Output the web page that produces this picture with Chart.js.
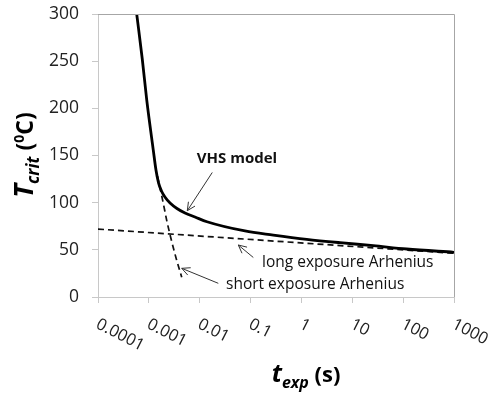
<!DOCTYPE html>
<html>
<head>
<meta charset="utf-8">
<script src="https://cdn.jsdelivr.net/npm/chart.js@4.4.1/dist/chart.umd.min.js"></script>
<style>
html,body{margin:0;padding:0;background:#fff;}
#wrap{width:490px;height:397px;position:relative;}
</style>
</head>
<body>
<div id="wrap"><canvas id="c" width="490" height="397"></canvas></div>
<script>
// ---- data ----
const vhsTime = [0.000577, 0.000743, 0.000908, 0.00122, 0.00138, 0.00155, 0.00177, 0.00207, 0.00261, 0.00357, 0.00514, 0.00807, 0.0139, 0.0776, 0.280, 1.27, 5.73, 25.9, 117, 1000];
const vhsTemp = [300, 252, 209, 156, 134.6, 120.9, 112.4, 106, 99.6, 93.8, 89, 84.8, 79.8, 70, 65.7, 61.2, 57.6, 54.4, 50.9, 47.4];
const longTime = [0.0001, 1000];
const longTemp = [72, 46.3];
const shortTime = [0.00148, 0.00191, 0.00227, 0.00261, 0.00348, 0.00443];
const shortTemp = [128, 100, 80, 66, 40, 21];
const xTickValues = [0.0001, 0.001, 0.01, 0.1, 1, 10, 100, 1000];
const xTickLabels = ['0.0001', '0.001', '0.01', '0.1', '1', '10', '100', '1000'];
const yTicksMin = 0, yTicksMax = 300, yTicksStep = 50;

// annotation anchors (data space)
const notes = [
  {text: 'VHS model', bold: true, t: 0.054, T: 142, align: 'center', arrow: {t1: 0.01766, T1: 132, t2: 0.0057, T2: 91.5}},
  {text: 'long exposure Arhenius', bold: false, t: 0.168, T: 31.8, align: 'left', arrow: {t1: 0.1132, T1: 41.9, t2: 0.0574, T2: 55.1}},
  {text: 'short exposure Arhenius', bold: false, t: 0.0329, T: 8.5, align: 'left', arrow: {t1: 0.0232, T1: 14.5, t2: 0.00443, T2: 30.4}}
];

const toXY = (ts, vs) => ts.map((t, i) => ({x: t, y: vs[i]}));

function drawRuns(ctx, runs, cx, baseY) {
  let total = 0;
  runs.forEach(r => { ctx.font = r.font; r.w = ctx.measureText(r.text).width; total += r.w; });
  let x = cx - total / 2;
  runs.forEach(r => { ctx.font = r.font; ctx.fillText(r.text, x, baseY + (r.dy || 0)); x += r.w; });
}

function arrow(ctx, x1, y1, x2, y2) {
  const ang = Math.atan2(y2 - y1, x2 - x1);
  const L = 9, a = 26 * Math.PI / 180;
  ctx.beginPath();
  ctx.moveTo(x1, y1); ctx.lineTo(x2, y2);
  ctx.moveTo(x2 - L * Math.cos(ang - a), y2 - L * Math.sin(ang - a));
  ctx.lineTo(x2, y2);
  ctx.lineTo(x2 - L * Math.cos(ang + a), y2 - L * Math.sin(ang + a));
  ctx.stroke();
}

const extras = {
  id: 'extras',
  afterDraw(chart) {
    const {ctx, chartArea: a, scales: {x, y}} = chart;
    ctx.save();
    // plot border top/right
    ctx.strokeStyle = '#a6a6a6'; ctx.lineWidth = 1;
    ctx.beginPath();
    ctx.moveTo(a.left, Math.round(a.top) + 0.5);
    ctx.lineTo(Math.round(a.right) + 0.5, Math.round(a.top) + 0.5);
    ctx.lineTo(Math.round(a.right) + 0.5, a.bottom);
    ctx.stroke();

    // rotated x tick labels
    ctx.fillStyle = '#222';
    ctx.font = '16.5px "Open Sans"';
    ctx.textAlign = 'left'; ctx.textBaseline = 'top';
    xTickValues.forEach((v, i) => {
      const px = x.getPixelForValue(v);
      ctx.save();
      ctx.translate(px + 3, a.bottom + 19);
      ctx.rotate(27 * Math.PI / 180);
      ctx.fillText(xTickLabels[i], 0, 0);
      ctx.restore();
    });

    // axis titles
    ctx.fillStyle = '#000';
    ctx.textAlign = 'left'; ctx.textBaseline = 'alphabetic';
    drawRuns(ctx, [
      {text: 't', font: 'italic bold 25px "Open Sans"'},
      {text: 'exp', font: 'italic bold 16px "Open Sans"', dy: 6},
      {text: ' (s)', font: 'bold 22px "Open Sans"'}
    ], 306, 382);

    ctx.save();
    ctx.translate(33, 155);
    ctx.rotate(-Math.PI / 2);
    drawRuns(ctx, [
      {text: 'T', font: 'italic bold 26px "Open Sans"'},
      {text: 'crit', font: 'italic bold 17px "Open Sans"', dy: 6},
      {text: ' (', font: 'bold 23px "Open Sans"'},
      {text: '0', font: 'bold 14px "Open Sans"', dy: -9},
      {text: 'C)', font: 'bold 23px "Open Sans"'}
    ], 0, 0);
    ctx.restore();

    // annotations
    ctx.strokeStyle = '#333'; ctx.lineWidth = 1;
    notes.forEach(n => {
      const ar = n.arrow;
      arrow(ctx, x.getPixelForValue(ar.t1), y.getPixelForValue(ar.T1), x.getPixelForValue(ar.t2), y.getPixelForValue(ar.T2));
      ctx.fillStyle = '#111';
      ctx.font = (n.bold ? 'bold 15px' : '15.5px') + ' "Open Sans"';
      ctx.textAlign = n.align;
      ctx.fillText(n.text, x.getPixelForValue(n.t), y.getPixelForValue(n.T));
    });
    ctx.restore();
  }
};

new Chart(document.getElementById('c'), {
  type: 'line',
  data: {
    datasets: [
      {label: 'VHS model', data: toXY(vhsTime, vhsTemp), borderColor: '#000', borderWidth: 2.8, pointRadius: 0, cubicInterpolationMode: 'monotone', fill: false},
      {label: 'long exposure Arhenius', data: toXY(longTime, longTemp), borderColor: '#111', borderWidth: 1.7, borderDash: [6, 4], pointRadius: 0, fill: false},
      {label: 'short exposure Arhenius', data: toXY(shortTime, shortTemp), borderColor: '#111', borderWidth: 1.7, borderDash: [6, 4], pointRadius: 0, cubicInterpolationMode: 'monotone', fill: false}
    ]
  },
  options: {
    responsive: false,
    animation: false,
    parsing: true,
    layout: {padding: {top: 14, right: 36, left: 0, bottom: 0}},
    plugins: {legend: {display: false}, tooltip: {enabled: false}},
    scales: {
      x: {
        type: 'logarithmic',
        min: xTickValues[0], max: xTickValues[xTickValues.length - 1],
        afterBuildTicks: s => { s.ticks = xTickValues.map(v => ({value: v})); },
        afterFit: s => { s.height = 100; s.paddingLeft = 0; s.paddingRight = 0; },
        ticks: {display: false},
        grid: {drawOnChartArea: false, drawTicks: true, tickLength: 6, color: '#c8c8c8'},
        border: {display: true, color: '#c8c8c8'}
      },
      y: {
        min: yTicksMin, max: yTicksMax,
        afterFit: s => { s.width = 98; s.paddingTop = 0; s.paddingBottom = 0; },
        ticks: {stepSize: yTicksStep, padding: 13, color: '#222', font: {family: 'Open Sans', size: 17.5}},
        grid: {drawOnChartArea: false, drawTicks: true, tickLength: 6, color: '#c8c8c8'},
        border: {display: true, color: '#c8c8c8'}
      }
    }
  },
  plugins: [extras]
});
</script>
</body>
</html>
